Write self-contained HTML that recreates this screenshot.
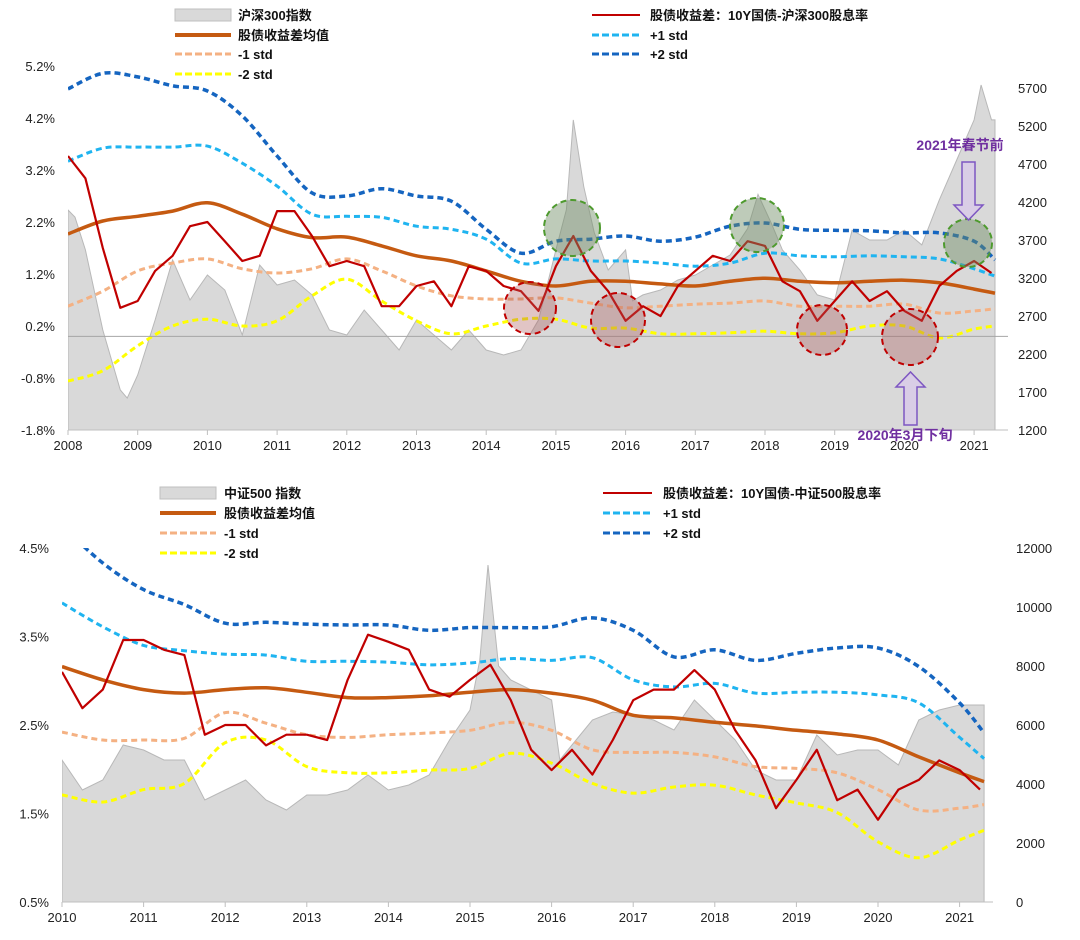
<!DOCTYPE html>
<html><head><meta charset="utf-8"><style>
body{margin:0;background:#fff;}
svg{display:block;font-family:"Liberation Sans","Noto Sans CJK SC",sans-serif;}
.ax{font-size:13px;fill:#222;}
.lg{font-size:13px;fill:#111;font-weight:bold;}
</style></head><body>
<svg id="s" width="1080" height="940" viewBox="0 0 1080 940">
<g id="top"></g>
<g id="bot"></g>
<g>
 <rect x="175" y="9" width="56" height="12" fill="#d9d9d9" stroke="#bfbfbf"/><text class="lg" x="238" y="20">沪深300指数</text>
 <line x1="175" y1="35" x2="231" y2="35" stroke="#c55a11" stroke-width="4"/><text class="lg" x="238" y="40">股债收益差均值</text>
 <line x1="175" y1="54" x2="231" y2="54" stroke="#f4b183" stroke-width="3" stroke-dasharray="7,3"/><text class="lg" x="238" y="59">-1 std</text>
 <line x1="175" y1="74" x2="231" y2="74" stroke="#ffff00" stroke-width="3" stroke-dasharray="7,3"/><text class="lg" x="238" y="79">-2 std</text>
 <line x1="592" y1="15" x2="640" y2="15" stroke="#c00000" stroke-width="2"/><text class="lg" x="650" y="20">股债收益差：10Y国债-沪深300股息率</text>
 <line x1="592" y1="35" x2="640" y2="35" stroke="#1fb4f0" stroke-width="3" stroke-dasharray="7,3"/><text class="lg" x="650" y="40">+1 std</text>
 <line x1="592" y1="54" x2="640" y2="54" stroke="#1565c0" stroke-width="3" stroke-dasharray="7,3"/><text class="lg" x="650" y="59">+2 std</text>
</g>
<g>
 <rect x="160" y="487" width="56" height="12" fill="#d9d9d9" stroke="#bfbfbf"/><text class="lg" x="224" y="498">中证500 指数</text>
 <line x1="160" y1="513" x2="216" y2="513" stroke="#c55a11" stroke-width="4"/><text class="lg" x="224" y="518">股债收益差均值</text>
 <line x1="160" y1="533" x2="216" y2="533" stroke="#f4b183" stroke-width="3" stroke-dasharray="7,3"/><text class="lg" x="224" y="538">-1 std</text>
 <line x1="160" y1="553" x2="216" y2="553" stroke="#ffff00" stroke-width="3" stroke-dasharray="7,3"/><text class="lg" x="224" y="558">-2 std</text>
 <line x1="603" y1="493" x2="652" y2="493" stroke="#c00000" stroke-width="2"/><text class="lg" x="663" y="498">股债收益差：10Y国债-中证500股息率</text>
 <line x1="603" y1="513" x2="652" y2="513" stroke="#1fb4f0" stroke-width="3" stroke-dasharray="7,3"/><text class="lg" x="663" y="518">+1 std</text>
 <line x1="603" y1="533" x2="652" y2="533" stroke="#1565c0" stroke-width="3" stroke-dasharray="7,3"/><text class="lg" x="663" y="538">+2 std</text>
</g>
</svg>
<script>
// ---------- TOP CHART DATA (CSI300) ----------
const topIdxT=[2008,2008.1,2008.25,2008.5,2008.75,2008.85,2009,2009.25,2009.5,2009.75,2010,2010.25,2010.5,2010.75,2011,2011.25,2011.5,2011.75,2012,2012.25,2012.5,2012.75,2013,2013.25,2013.5,2013.75,2014,2014.25,2014.5,2014.75,2015,2015.15,2015.25,2015.4,2015.55,2015.75,2016,2016.1,2016.25,2016.5,2016.75,2017,2017.25,2017.5,2017.75,2017.9,2018.1,2018.25,2018.5,2018.75,2019,2019.25,2019.5,2019.75,2020,2020.25,2020.5,2020.75,2021,2021.1,2021.25,2021.3];
const topIdx=[4095,4000,3570,2516,1726,1620,1924,2648,3437,2911,3240,3042,2450,3371,3108,3174,2977,2516,2450,2779,2516,2253,2648,2450,2253,2516,2253,2187,2253,2648,3570,4100,5280,4400,3800,3305,3570,2900,2977,3042,3174,3240,3371,3503,3850,4300,3900,3570,3305,2977,2911,3829,3700,3700,3829,3635,4227,4753,5280,5740,5280,5280];
const topRedT=[2008,2008.25,2008.5,2008.75,2009,2009.25,2009.5,2009.75,2010,2010.25,2010.5,2010.75,2011,2011.25,2011.5,2011.75,2012,2012.25,2012.5,2012.75,2013,2013.25,2013.5,2013.75,2014,2014.25,2014.5,2014.75,2015,2015.25,2015.5,2015.75,2016,2016.25,2016.5,2016.75,2017,2017.25,2017.5,2017.75,2018,2018.25,2018.5,2018.75,2019,2019.25,2019.5,2019.75,2020,2020.25,2020.5,2020.75,2021,2021.25];
const topRed=[3.47,3.04,1.7,0.55,0.68,1.26,1.55,2.12,2.2,1.83,1.45,1.55,2.41,2.41,1.93,1.35,1.45,1.35,0.58,0.58,0.97,1.06,0.58,1.35,1.26,0.97,0.87,0.49,1.35,1.93,1.26,0.87,0.3,0.58,0.39,0.97,1.26,1.55,1.45,1.83,1.74,1.06,0.87,0.3,0.68,1.06,0.68,0.87,0.49,0.3,0.97,1.26,1.45,1.22];
const topT=[2008,2008.5,2009,2009.5,2010,2010.5,2011,2011.5,2012,2012.5,2013,2013.5,2014,2014.5,2015,2015.5,2016,2016.5,2017,2017.5,2018,2018.5,2019,2019.5,2020,2020.5,2021,2021.3];
const topMean=[1.97,2.22,2.31,2.41,2.57,2.35,2.07,1.9,1.91,1.74,1.55,1.45,1.26,1.06,0.97,1.06,1.06,1.01,0.97,1.06,1.12,1.06,1.03,1.06,1.08,1.03,0.91,0.83];
const topP1=[3.37,3.62,3.64,3.64,3.66,3.33,2.89,2.35,2.31,2.29,2.12,2.06,1.87,1.41,1.49,1.45,1.45,1.41,1.35,1.41,1.6,1.55,1.53,1.55,1.53,1.49,1.3,1.16];
const topP2=[4.76,5.06,4.99,4.82,4.72,4.24,3.47,2.76,2.7,2.84,2.7,2.6,2.06,1.6,1.83,1.87,1.93,1.83,1.91,2.12,2.18,2.06,2.04,2.03,1.99,1.99,1.83,1.47];
const topM1=[0.58,0.87,1.26,1.41,1.49,1.3,1.22,1.3,1.49,1.26,0.97,0.78,0.72,0.72,0.74,0.64,0.55,0.58,0.62,0.64,0.68,0.58,0.58,0.58,0.62,0.45,0.49,0.53];
const topM2=[-0.86,-0.66,-0.18,0.2,0.33,0.2,0.3,0.78,1.1,0.68,0.3,0.05,0.2,0.33,0.33,0.16,0.16,0.05,0.05,0.07,0.1,0.05,0.07,0.2,0.2,-0.03,0.14,0.2];
const topLeftTicks=["5.2%","4.2%","3.2%","2.2%","1.2%","0.2%","-0.8%","-1.8%"];
const topLeftVals=[5.2,4.2,3.2,2.2,1.2,0.2,-0.8,-1.8];
const topRightTicks=[5700,5200,4700,4200,3700,3200,2700,2200,1700,1200];
const topYears=[2008,2009,2010,2011,2012,2013,2014,2015,2016,2017,2018,2019,2020,2021];

// ---------- BOTTOM CHART DATA (CSI500) ----------
const botIdxT=[2010,2010.25,2010.5,2010.75,2011,2011.25,2011.5,2011.75,2012,2012.25,2012.5,2012.75,2013,2013.25,2013.5,2013.75,2014,2014.25,2014.5,2014.75,2015,2015.12,2015.22,2015.35,2015.5,2015.75,2016,2016.1,2016.25,2016.5,2016.75,2017,2017.25,2017.5,2017.75,2018,2018.25,2018.5,2018.75,2019,2019.25,2019.5,2019.75,2020,2020.25,2020.5,2020.75,2021,2021.3];
const botIdx=[4814,3797,4136,5322,5153,4814,4814,3458,3797,4136,3458,3119,3627,3627,3797,4305,3797,3966,4305,5492,6509,8200,11424,8000,7526,7187,6848,4814,5322,6170,6441,6339,6170,5831,6848,6170,5492,4475,4136,4136,5661,4983,5153,5153,4644,6170,6509,6678,6678];
const botRedT=[2010,2010.25,2010.5,2010.75,2011,2011.25,2011.5,2011.75,2012,2012.25,2012.5,2012.75,2013,2013.25,2013.5,2013.75,2014,2014.25,2014.5,2014.75,2015,2015.25,2015.5,2015.75,2016,2016.25,2016.5,2016.75,2017,2017.25,2017.5,2017.75,2018,2018.25,2018.5,2018.75,2019,2019.25,2019.5,2019.75,2020,2020.25,2020.5,2020.75,2021,2021.25];
const botRed=[3.10,2.69,2.90,3.46,3.46,3.35,3.29,2.39,2.50,2.50,2.27,2.39,2.39,2.33,3.01,3.52,3.44,3.35,2.90,2.82,3.01,3.18,2.78,2.22,1.99,2.22,1.94,2.33,2.78,2.90,2.90,3.12,2.90,2.44,2.10,1.56,1.88,2.22,1.65,1.77,1.43,1.77,1.88,2.10,1.99,1.77];
const botT=[2010,2010.5,2011,2011.5,2012,2012.5,2013,2013.5,2014,2014.5,2015,2015.5,2016,2016.5,2017,2017.5,2018,2018.5,2019,2019.5,2020,2020.5,2021,2021.3];
const botMean=[3.16,3.01,2.90,2.86,2.90,2.92,2.87,2.81,2.81,2.83,2.87,2.90,2.86,2.78,2.61,2.58,2.53,2.49,2.44,2.40,2.33,2.14,1.96,1.86];
const botP1=[3.88,3.61,3.40,3.34,3.30,3.29,3.22,3.22,3.21,3.18,3.20,3.25,3.23,3.26,3.01,2.93,2.97,2.86,2.87,2.87,2.84,2.75,2.36,2.12];
const botP2=[4.75,4.33,4.03,3.86,3.65,3.66,3.64,3.63,3.63,3.57,3.60,3.60,3.61,3.71,3.57,3.27,3.35,3.23,3.31,3.37,3.37,3.16,2.75,2.41];
const botM1=[2.42,2.33,2.33,2.35,2.64,2.52,2.39,2.36,2.39,2.41,2.44,2.53,2.44,2.22,2.19,2.19,2.14,2.03,2.01,1.96,1.77,1.54,1.56,1.60];
const botM2=[1.71,1.63,1.77,1.84,2.30,2.33,2.03,1.96,1.96,1.99,2.01,2.18,2.07,1.84,1.73,1.80,1.82,1.71,1.62,1.51,1.18,1.00,1.20,1.31];
const botLeftTicks=["4.5%","3.5%","2.5%","1.5%","0.5%"];
const botLeftVals=[4.5,3.5,2.5,1.5,0.5];
const botRightTicks=[12000,10000,8000,6000,4000,2000,0];
const botYears=[2010,2011,2012,2013,2014,2015,2016,2017,2018,2019,2020,2021];

const NS="http://www.w3.org/2000/svg";
function mk(tag,attrs,parent){const e=document.createElementNS(NS,tag);for(const k in attrs)e.setAttribute(k,attrs[k]);parent.appendChild(e);return e;}
function smooth(pts){let d="M"+pts[0][0].toFixed(1)+","+pts[0][1].toFixed(1);
 for(let i=0;i<pts.length-1;i++){const p0=pts[i-1]||pts[i],p1=pts[i],p2=pts[i+1],p3=pts[i+2]||p2;
  const c1=[p1[0]+(p2[0]-p0[0])/6,p1[1]+(p2[1]-p0[1])/6],c2=[p2[0]-(p3[0]-p1[0])/6,p2[1]-(p3[1]-p1[1])/6];
  d+="C"+c1[0].toFixed(1)+","+c1[1].toFixed(1)+" "+c2[0].toFixed(1)+","+c2[1].toFixed(1)+" "+p2[0].toFixed(1)+","+p2[1].toFixed(1);}
 return d;}
function poly(pts){return "M"+pts.map(p=>p[0].toFixed(1)+","+p[1].toFixed(1)).join("L");}

function build(g,cfg){
 const X=t=>cfg.x0+(t-cfg.t0)*cfg.xs;
 const YL=v=>cfg.yl0+(cfg.vl0-v)*cfg.yls;
 const YR=v=>cfg.yr0+(cfg.vr0-v)*cfg.yrs;
 const cid="clip"+cfg.id;
 const defs=mk("defs",{},g);const cp=mk("clipPath",{id:cid},defs);
 mk("rect",{x:cfg.x0,y:cfg.top,width:cfg.x1-cfg.x0,height:cfg.bottom-cfg.top},cp);
 const pg=mk("g",{"clip-path":"url(#"+cid+")"},g);
 const ap=cfg.idxT.map((t,i)=>[X(t),YR(cfg.idx[i])]);
 const area=mk("path",{d:poly(ap)+"L"+X(cfg.idxT[cfg.idxT.length-1])+","+cfg.bottom+"L"+X(cfg.idxT[0])+","+cfg.bottom+"Z",fill:"#d9d9d9",stroke:"#b8b8b8","stroke-width":1},pg);
 
 
 if(cfg.zeroLine){const zl=mk("line",{x1:cfg.x0,x2:cfg.x1+8,y1:YL(0),y2:YL(0),stroke:"#a6a6a6","stroke-width":1},g);
  
  }
 const series=[[cfg.m2,"#ffff00",3,"6,4","minus-2-std-line"],[cfg.m1,"#f4b183",3,"6,4","minus-1-std-line"],[cfg.p1,"#1fb4f0",3,"6,4","plus-1-std-line"],[cfg.p2,"#1565c0",3.5,"6,4","plus-2-std-line"],[cfg.mean,"#c55a11",3.5,"","mean-line"]];
 series.forEach(s=>{const pts=cfg.T.map((t,i)=>[X(t),YL(s[0][i])]);
  const p=mk("path",{d:smooth(pts),fill:"none",stroke:s[1],"stroke-width":s[2],"stroke-dasharray":s[3]},pg);
  
  });
 const rp=cfg.redT.map((t,i)=>[X(t),YL(cfg.red[i])]);
 const red=mk("path",{d:poly(rp),fill:"none",stroke:"#c00000","stroke-width":2.2,"stroke-linejoin":"round"},pg);
 
 
 const bl=mk("line",{x1:cfg.x0,x2:cfg.x1+8,y1:cfg.bottom,y2:cfg.bottom,stroke:"#bfbfbf"},g);
 
 
 cfg.years.forEach(y=>{const x=X(y);
  mk("line",{x1:x,x2:x,y1:cfg.bottom,y2:cfg.bottom+5,stroke:"#bfbfbf"},g);
  const t=mk("text",{x:x,y:cfg.bottom+20,"text-anchor":"middle",class:"ax"},g);t.textContent=y;
  
  });
 cfg.lt.forEach((s,i)=>{const t=mk("text",{x:cfg.x0-13,y:YL(cfg.lv[i])+5,"text-anchor":"end",class:"ax"},g);t.textContent=s;
  
  });
 cfg.rt.forEach(v=>{const t=mk("text",{x:cfg.rx,y:YR(v)+5,"text-anchor":"start",class:"ax"},g);t.textContent=v;
  
  });
}
build(document.getElementById("top"),{id:"t",x0:68,x1:1000,t0:2008,xs:69.7,yl0:66,vl0:5.2,yls:52,yr0:88,vr0:5700,yrs:0.076,top:60,bottom:430,
 idxT:topIdxT,idx:topIdx,T:topT,mean:topMean,p1:topP1,p2:topP2,m1:topM1,m2:topM2,redT:topRedT,red:topRed,years:topYears,lt:topLeftTicks,lv:topLeftVals,rt:topRightTicks,rx:1018,zeroLine:true});
build(document.getElementById("bot"),{id:"b",x0:62,x1:985,t0:2010,xs:81.6,yl0:548,vl0:4.5,yls:88.5,yr0:548,vr0:12000,yrs:0.0295,top:548,bottom:902,
 idxT:botIdxT,idx:botIdx,T:botT,mean:botMean,p1:botP1,p2:botP2,m1:botM1,m2:botM2,redT:botRedT,red:botRed,years:botYears,lt:botLeftTicks,lv:botLeftVals,rt:botRightTicks,rx:1016,zeroLine:false});

const ann=document.getElementById("top");
[[572,228,28],[757,225,27],[968,243,24]].forEach(c=>{const e=mk("circle",{cx:c[0],cy:c[1],r:c[2],fill:"rgba(110,140,100,0.45)",stroke:"#4e9a2e","stroke-width":2,"stroke-dasharray":"6,4"},ann);
 
 });
[[530,308,26],[618,320,27],[822,330,25],[910,337,28]].forEach(c=>{const e=mk("circle",{cx:c[0],cy:c[1],r:c[2],fill:"rgba(170,90,90,0.35)",stroke:"#c00000","stroke-width":2,"stroke-dasharray":"6,4"},ann);
 
 });
const a1=mk("path",{d:"M962,162 L975,162 L975,205 L983,205 L968.5,220 L954,205 L962,205 Z",fill:"#d9cde6",stroke:"#7e57c2","stroke-width":1.5},ann);


const a2=mk("path",{d:"M904,425 L917,425 L917,387 L925,387 L910.5,372 L896,387 L904,387 Z",fill:"#d9cde6",stroke:"#7e57c2","stroke-width":1.5},ann);


const l1=mk("text",{x:960,y:150,"text-anchor":"middle",fill:"#7030a0","font-size":"14","font-weight":"bold"},ann);l1.textContent="2021年春节前";


const l2=mk("text",{x:905,y:440,"text-anchor":"middle",fill:"#7030a0","font-size":"14","font-weight":"bold"},ann);l2.textContent="2020年3月下旬";


</script>
</body></html>
